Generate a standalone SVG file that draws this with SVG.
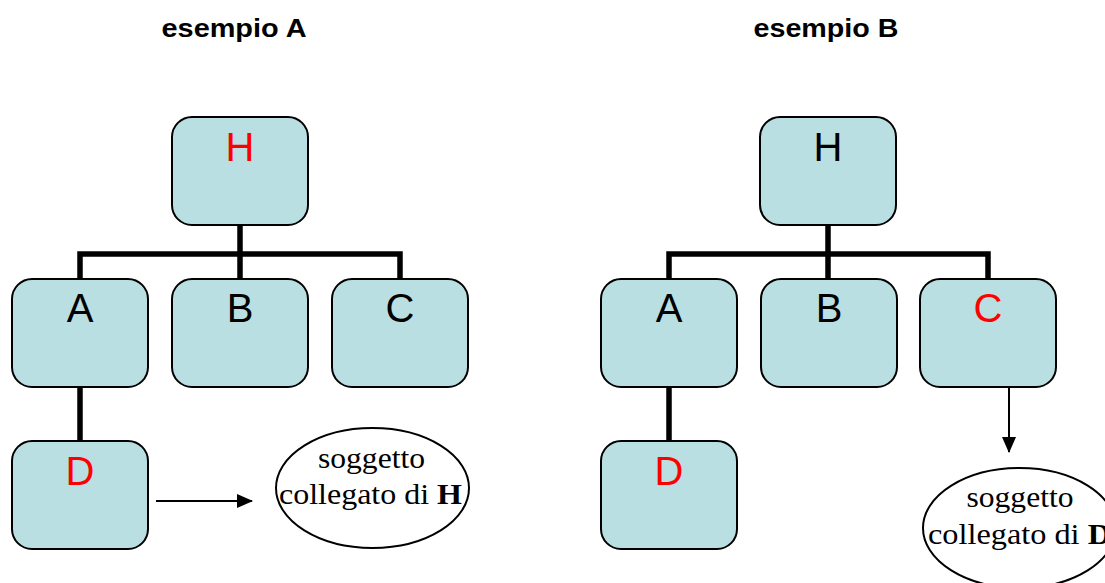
<svg xmlns="http://www.w3.org/2000/svg" width="1105" height="583" viewBox="0 0 1105 583">
  <defs>
    <style>
      .box { fill: #BADFE2; stroke: #000; stroke-width: 2; }
      .lbl { font-family: "Liberation Sans", Arial, sans-serif; font-size: 40px; text-anchor: middle; }
      .red { fill: #FF0000; }
      .blk { fill: #000; }
      .title { font-family: "Liberation Sans", Arial, sans-serif; font-size: 26px; font-weight: bold; text-anchor: middle; fill: #000; }
      .tree { fill: none; stroke: #000; stroke-width: 5.5; }
      .arrow { fill: none; stroke: #000; stroke-width: 2; }
      .ell { fill: #fff; stroke: #000; stroke-width: 2; }
      .et { font-family: "Liberation Serif", "Times New Roman", serif; font-size: 30px; text-anchor: middle; fill: #000; }
    </style>
    <marker id="ah" markerWidth="16" markerHeight="14" refX="15" refY="7" orient="auto" markerUnits="userSpaceOnUse">
      <path d="M0,0 L16,7 L0,14 Z" fill="#000"/>
    </marker>
  </defs>
  <rect width="1105" height="583" fill="#fff"/>

  <text class="title" x="234" y="37" textLength="145" lengthAdjust="spacingAndGlyphs">esempio A</text>
  <text class="title" x="826" y="37" textLength="145" lengthAdjust="spacingAndGlyphs">esempio B</text>

  <g id="connectors">
    <path class="tree" d="M240,225 V254 M80,279 V254 H400 V279 M240,254 V279 M80,387 V441"/>
    <path class="tree" d="M828,225 V254 M669,279 V254 H988 V279 M828,254 V279 M669,387 V441"/>
    <line class="arrow" x1="156" y1="501" x2="252" y2="501" marker-end="url(#ah)"/>
    <line class="arrow" x1="1009" y1="380" x2="1009" y2="452" marker-end="url(#ah)"/>
  </g>

  <g id="A_H">
    <rect class="box" x="172" y="117" width="136" height="108" rx="20"/>
    <text class="lbl red" x="240" y="161">H</text>
  </g>
  <g id="A_A">
    <rect class="box" x="12" y="279" width="136" height="108" rx="20"/>
    <text class="lbl blk" x="80" y="322">A</text>
  </g>
  <g id="A_B">
    <rect class="box" x="172" y="279" width="136" height="108" rx="20"/>
    <text class="lbl blk" x="240" y="322">B</text>
  </g>
  <g id="A_C">
    <rect class="box" x="332" y="279" width="136" height="108" rx="20"/>
    <text class="lbl blk" x="400" y="322">C</text>
  </g>
  <g id="A_D">
    <rect class="box" x="12" y="441" width="136" height="108" rx="20"/>
    <text class="lbl red" x="80" y="485">D</text>
  </g>
  <g id="A_ellipse">
    <ellipse class="ell" cx="372.5" cy="488" rx="96.5" ry="60"/>
    <text class="et" x="371.5" y="468" textLength="107" lengthAdjust="spacingAndGlyphs">soggetto</text>
    <text class="et" x="370.5" y="504" textLength="183" lengthAdjust="spacingAndGlyphs">collegato di <tspan font-weight="bold">H</tspan></text>
  </g>

  <g id="B_H">
    <rect class="box" x="760" y="117" width="136" height="108" rx="20"/>
    <text class="lbl blk" x="828" y="161">H</text>
  </g>
  <g id="B_A">
    <rect class="box" x="601" y="279" width="136" height="108" rx="20"/>
    <text class="lbl blk" x="669" y="322">A</text>
  </g>
  <g id="B_B">
    <rect class="box" x="761" y="279" width="136" height="108" rx="20"/>
    <text class="lbl blk" x="829" y="322">B</text>
  </g>
  <g id="B_C">
    <rect class="box" x="920" y="279" width="136" height="108" rx="20"/>
    <text class="lbl red" x="988" y="322">C</text>
  </g>
  <g id="B_D">
    <rect class="box" x="601" y="441" width="136" height="108" rx="20"/>
    <text class="lbl red" x="669" y="485">D</text>
  </g>
  <g id="B_ellipse">
    <ellipse class="ell" cx="1019.5" cy="528" rx="96.5" ry="60"/>
    <text class="et" x="1020" y="507" textLength="107" lengthAdjust="spacingAndGlyphs">soggetto</text>
    <text class="et" x="1019.5" y="544" textLength="183" lengthAdjust="spacingAndGlyphs">collegato di <tspan font-weight="bold">D</tspan></text>
  </g>
</svg>
